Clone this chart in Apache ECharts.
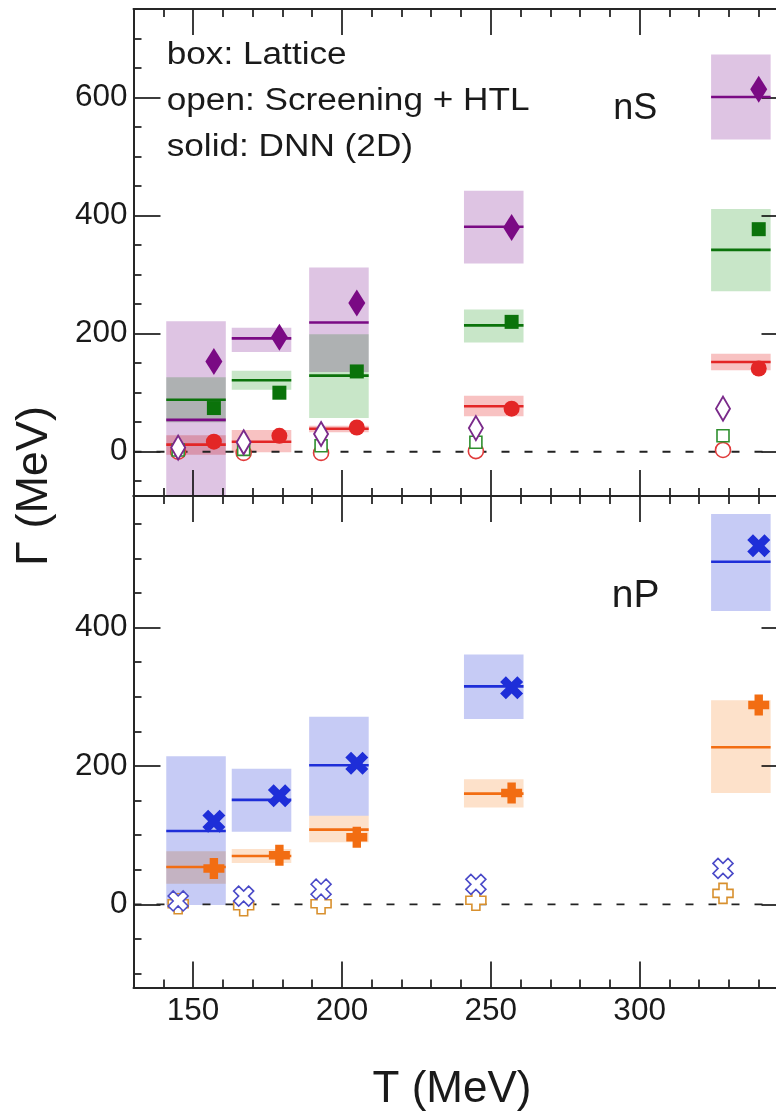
<!DOCTYPE html>
<html><head><meta charset="utf-8">
<script src="https://cdn.jsdelivr.net/npm/echarts@6/dist/echarts.min.js"></script>
<style>html,body{margin:0;padding:0;background:#fff;overflow:hidden;width:776px;height:1119px}#c{width:800px;height:1119px}</style>
</head><body><div id="c"></div>
<script>
// ---------- data ----------
const T_LATTICE = [151, 173, 199, 251, 334];   // lattice temperatures (box centres)
const T_DNN     = [157, 179, 205, 257, 340];   // solid markers
const T_HTL     = [145, 167, 193, 245, 328];   // open markers
const BOX_HALF  = 10;                          // lattice box half-width in T

// nS panel
const S3_LAT = [54, 192, 219, 381, 601];
const S3_LO  = [-110, 169, 135, 319, 529];
const S3_HI  = [221, 210, 312, 442, 673];
const S2_LAT = [88, 121, 129, 214, 342];
const S2_LO  = [50, 105, 57, 185, 272];
const S2_HI  = [126, 137, 199, 241, 411];
const S1_LAT = [12, 17, 39, 77, 152];
const S1_LO  = [-5, -1, 33, 60, 138];
const S1_HI  = [28, 37, 44, 95, 166];
const S3_DNN = [153, 194, 252, 380, 614];
const S2_DNN = [74, 100, 136, 220, 377];
const S1_DNN = [17, 27, 41, 73, 141];
const S3_HTL = [7, 16, 30, 40, 73];
const S2_HTL = [3, 4, 10, 16, 27];
const S1_HTL = [0, -2, -2, 1, 3];

// nP panel
const P2_LAT = [106, 151, 201, 315, 495];
const P2_LO  = [-1, 105, 128, 268, 424];
const P2_HI  = [214, 196, 271, 361, 564];
const P1_LAT = [54, 70, 108, 160, 227];
const P1_LO  = [30, 60, 90, 140, 161];
const P1_HI  = [77, 80, 128, 181, 295];
const P2_DNN = [120, 157, 204, 313, 518];
const P1_DNN = [52, 71, 97, 161, 288];
const P2_HTL = [5, 12, 22, 29, 52];
const P1_HTL = [1, -2, 1, 6, 16];

const ZERO_LEVEL = 0;

// axes
const X_RANGE  = [130, 350];
const X_MAJOR  = [150, 200, 250, 300];
const X_MINOR  = [140, 160, 170, 180, 190, 210, 220, 230, 240, 260, 270, 280, 290, 310, 320, 330, 340];
const YS_RANGE = [-75, 750];
const YS_MAJOR = [0, 200, 400, 600];
const YS_MINOR = [-50, 50, 100, 150, 250, 300, 350, 450, 500, 550, 650, 700];
const YP_RANGE = [-120, 590];
const YP_MAJOR = [0, 200, 400];
const YP_MINOR = [-100, -50, 50, 100, 150, 250, 300, 350, 450, 500, 550];

// ---------- styling ----------
const FONT = 'Liberation Sans';
const AX = '#262626';
const C = {
  purpleFill: '#dec4e3', greenFill: '#c8e6c8', redFill: '#f8c2c2',
  blueFill: '#c6cbf5', orangeFill: '#fde1ca',
  purple: '#7a0a84', green: '#0b730b', red: '#e32626',
  blue: '#1e2ed8', orange: '#f26d12',
  oPurple: '#7a2a8a', oGreen: '#2f8f2f', oRed: '#e03a3a', oBlue: '#4a4ac8', oOrange: '#d8902e'
};
const X_PATH = 'path://M0,1.5L1.5,0L3,1.5L4.5,0L6,1.5L4.5,3L6,4.5L4.5,6L3,4.5L1.5,6L0,4.5L1.5,3Z';
const PLUS_PATH = 'path://M2.4,0H5.6V2.4H8V5.6H5.6V8H2.4V5.6H0V2.4H2.4Z';

function mkX(gi, pos, ticks, len, labels, line) {
  return {
    type: 'value', gridIndex: gi, position: pos, min: X_RANGE[0], max: X_RANGE[1],
    axisLine: {show: line, onZero: false, lineStyle: {color: AX, width: 2}},
    axisTick: {show: true, inside: true, length: len, customValues: ticks, lineStyle: {color: AX, width: 1.8}},
    axisLabel: labels ? {show: true, customValues: ticks, margin: 8, fontFamily: FONT, fontSize: 31.5, color: '#1a1a1a'} : {show: false},
    splitLine: {show: false}, silent: true
  };
}
function mkY(gi, pos, range, ticks, len, labels, line) {
  return {
    type: 'value', gridIndex: gi, position: pos, min: range[0], max: range[1],
    axisLine: {show: line, onZero: false, lineStyle: {color: AX, width: 2}},
    axisTick: {show: true, inside: true, length: len, customValues: ticks, lineStyle: {color: AX, width: 1.8}},
    axisLabel: labels ? {show: true, customValues: ticks, margin: 6, fontFamily: FONT, fontSize: 31.5, color: '#1a1a1a'} : {show: false},
    splitLine: {show: false}, silent: true
  };
}

const xAxes = [], yAxes = [];
[0, 1].forEach(gi => {
  xAxes.push(mkX(gi, 'bottom', X_MAJOR, 26, gi === 1, true));
  xAxes.push(mkX(gi, 'top', X_MAJOR, 26, false, true));
  xAxes.push(mkX(gi, 'bottom', X_MINOR, 8, false, false));
  xAxes.push(mkX(gi, 'top', X_MINOR, 8, false, false));
  const r = gi === 0 ? YS_RANGE : YP_RANGE;
  const maj = gi === 0 ? YS_MAJOR : YP_MAJOR;
  const min = gi === 0 ? YS_MINOR : YP_MINOR;
  yAxes.push(mkY(gi, 'left', r, maj, 27, true, true));
  yAxes.push(mkY(gi, 'right', r, maj, 27, false, true));
  yAxes.push(mkY(gi, 'left', r, min, 8, false, false));
  yAxes.push(mkY(gi, 'right', r, min, 8, false, false));
});

function boxes(gi, lo, hi, fill) {
  return {
    type: 'custom', xAxisIndex: gi * 4, yAxisIndex: gi * 4, z: 1, silent: true,
    blendMode: 'multiply',
    data: T_LATTICE.map((t, i) => [t, lo[i], hi[i]]),
    renderItem(params, api) {
      const t = api.value(0);
      const p1 = api.coord([t - BOX_HALF, api.value(2)]);
      const p2 = api.coord([t + BOX_HALF, api.value(1)]);
      const cs = params.coordSys;
      const rect = echarts.graphic.clipRectByRect(
        {x: p1[0], y: p1[1], width: p2[0] - p1[0], height: p2[1] - p1[1]},
        {x: cs.x, y: cs.y, width: cs.width, height: cs.height});
      return rect && {type: 'rect', shape: rect, style: {fill: fill, blend: 'multiply'}};
    }
  };
}
function hlines(gi, c, color) {
  return {
    type: 'custom', xAxisIndex: gi * 4, yAxisIndex: gi * 4, z: 3, silent: true,
    data: T_LATTICE.map((t, i) => [t, c[i]]),
    renderItem(params, api) {
      const t = api.value(0), v = api.value(1);
      const a = api.coord([t - BOX_HALF, v]);
      const b = api.coord([t + BOX_HALF, v]);
      return {type: 'line', shape: {x1: a[0], y1: a[1], x2: b[0], y2: b[1]}, style: {stroke: color, lineWidth: 2.6}};
    }
  };
}
function pts(gi, xs, ys, symbol, size, style, z) {
  return {
    type: 'scatter', xAxisIndex: gi * 4, yAxisIndex: gi * 4, z: z, silent: true,
    data: xs.map((x, i) => [x, ys[i]]), symbol: symbol, symbolSize: size,
    itemStyle: Object.assign({opacity: 1}, style)
  };
}
function zero(gi) {
  return {
    type: 'line', xAxisIndex: gi * 4, yAxisIndex: gi * 4, z: 2, silent: true,
    data: [[X_RANGE[0], ZERO_LEVEL], [X_RANGE[1], ZERO_LEVEL]], symbol: 'none',
    lineStyle: {color: '#222', width: 1.8, type: [8, 15]}
  };
}
const open = (col, w) => ({color: '#ffffff', borderColor: col, borderWidth: w});

const series = [
  // nS
  boxes(0, S3_LO, S3_HI, C.purpleFill),
  boxes(0, S2_LO, S2_HI, C.greenFill),
  boxes(0, S1_LO, S1_HI, C.redFill),
  zero(0),
  hlines(0, S3_LAT, C.purple),
  hlines(0, S2_LAT, C.green),
  hlines(0, S1_LAT, C.red),
  pts(0, T_HTL, S1_HTL, 'circle', 15, open(C.oRed, 1.6), 5),
  pts(0, T_HTL, S2_HTL, 'rect', 12, open(C.oGreen, 1.6), 6),
  pts(0, T_HTL, S3_HTL, 'diamond', [14, 24], open(C.oPurple, 2), 7),
  pts(0, T_DNN, S3_DNN, 'diamond', [17, 27], {color: C.purple}, 8),
  pts(0, T_DNN, S2_DNN, 'rect', 14, {color: C.green}, 8),
  pts(0, T_DNN, S1_DNN, 'circle', 16, {color: C.red}, 8),
  // nP
  boxes(1, P2_LO, P2_HI, C.blueFill),
  boxes(1, P1_LO, P1_HI, C.orangeFill),
  zero(1),
  hlines(1, P2_LAT, C.blue),
  hlines(1, P1_LAT, C.orange),
  pts(1, T_HTL, P1_HTL, PLUS_PATH, 20, open(C.oOrange, 1.6), 5),
  pts(1, T_HTL, P2_HTL, X_PATH, 20, open(C.oBlue, 1.6), 6),
  pts(1, T_DNN, P2_DNN, X_PATH, 23, {color: C.blue}, 8),
  pts(1, T_DNN, P1_DNN, PLUS_PATH, 21, {color: C.orange}, 8)
];

function txt(text, x, y, size, extra) {
  return Object.assign({
    type: 'text', x: x, y: y, silent: true,
    style: Object.assign({text: text, font: size + 'px "' + FONT + '"', fill: '#1a1a1a',
      textAlign: 'left', align: 'left', textVerticalAlign: 'middle', verticalAlign: 'middle'}, (extra && extra.style) || {})
  }, extra ? {scaleX: extra.scaleX || 1, rotation: extra.rotation || 0} : {});
}

const chart = echarts.init(document.getElementById('c'), null, {renderer: 'canvas', width: 800, height: 1119});
chart.setOption({
  backgroundColor: '#ffffff',
  animation: false,
  textStyle: {fontFamily: FONT},
  grid: [
    {left: 133.5, top: 9, width: 655, height: 487},
    {left: 133.5, top: 496, width: 655, height: 491.5}
  ],
  xAxis: xAxes,
  yAxis: yAxes,
  series: series,
  graphic: [
    txt('box: Lattice', 166.7, 55.8, 31, {scaleX: 1.135}),
    txt('open: Screening + HTL', 166.7, 101.2, 31, {scaleX: 1.135}),
    txt('solid: DNN (2D)', 166.7, 147.2, 31, {scaleX: 1.135}),
    txt('nS', 613.3, 109.1, 36),
    txt('nP', 611.7, 596.4, 39),
    txt('T (MeV)', 452, 1089.6, 44, {style: {textAlign: 'center', align: 'center'}}),
    txt('Γ (MeV)', 35, 486, 45, {rotation: Math.PI / 2, style: {textAlign: 'center', align: 'center'}})
  ]
});
</script>
</body></html>
